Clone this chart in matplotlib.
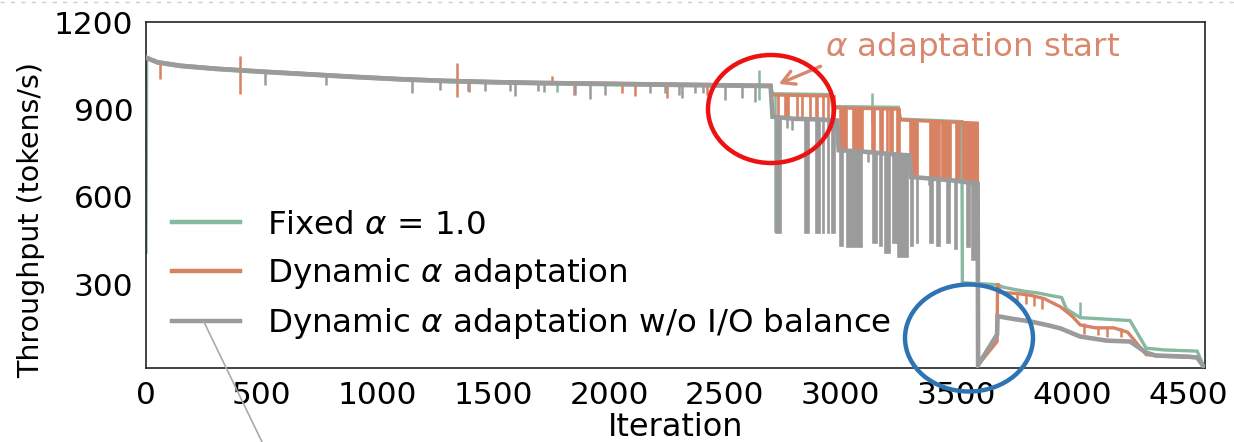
import matplotlib
matplotlib.use("Agg")
import matplotlib.pyplot as plt
from matplotlib.patches import Ellipse
from matplotlib.lines import Line2D

plt.rcParams['font.family'] = ['DejaVu Sans']
plt.rcParams['mathtext.fontset'] = 'dejavusans'

GREEN = '#86b9a0'
ORANGE = '#d98163'
GRAY = '#9b9b9b'
NOTE = '#d9886e'

# ---- Fixed alpha = 1.0 -------------------------------------------------
fixed_iter = [0, 3, 50, 150, 300, 500, 700, 900, 1100, 1300, 1500, 1700, 1900,
              2100, 2300, 2500, 2698, 2705, 2960, 2968, 3250, 3258, 3524, 3526,
              3680, 3700, 3750, 3800, 3850, 3900, 3955, 3975, 4035, 4250, 4320,
              4400, 4540, 4566]
fixed_tput = [410, 1075, 1059, 1047, 1037, 1027, 1018, 1009, 1001, 995, 991, 988,
              986, 984, 982, 980, 978, 954, 951, 910, 907, 867, 858, 305,
              298, 290, 282, 275, 270, 262, 254, 215, 185, 175, 80,
              74, 70, 22]
fixed_spike_iter = [1775, 2648, 2715, 3136, 4036]
fixed_spike_lo = [960, 933, 480, 854, 185]
fixed_spike_hi = [990, 1035, 954, 957, 240]

# ---- Dynamic alpha adaptation ------------------------------------------
adapt_iter = [0, 50, 150, 300, 500, 700, 900, 1100, 1300, 1500, 1700, 1900,
              2100, 2300, 2500, 2698, 2704, 2960, 2966, 3250, 3258, 3590, 3594,
              3676, 3678, 3690, 3760, 3820, 3880, 3950, 4000, 4035, 4100, 4180,
              4240, 4320, 4400, 4540, 4568]
adapt_tput = [1080, 1064, 1052, 1042, 1032, 1023, 1014, 1006, 1000, 996, 993, 991,
              989, 987, 985, 983, 950, 946, 906, 901, 864, 853, 22,
              103, 303, 272, 268, 262, 250, 222, 190, 160, 150, 150,
              135, 58, 52, 48, 18]
adapt_spike_iter = [60, 406, 1343, 1395, 1754, 1849, 2056, 2112, 2251, 2423,
                    3760, 3800, 3835, 3870, 4050, 4110, 4150, 4210]
adapt_spike_lo = [1005, 953, 943, 960, 989, 950, 957, 945, 939, 950,
                  235, 232, 225, 215, 130, 125, 120, 118]
adapt_spike_hi = [1062, 1083, 1059, 996, 1015, 991, 988, 987, 986, 985,
                  268, 264, 262, 255, 165, 152, 150, 148]
# bursts where the throughput flips rapidly between two levels
adapt_burst_start = [2728, 2758, 2810, 2832, 2866, 2896, 2922, 2944, 2961,
                     2998, 3054, 3136, 3171, 3199, 3214, 3244,
                     3300, 3387, 3440, 3500, 3527]
adapt_burst_end = [2734, 2778, 2815, 2837, 2871, 2901, 2927, 2949, 2978,
                   3028, 3097, 3149, 3184, 3204, 3227, 3257,
                   3335, 3430, 3475, 3515, 3592]
adapt_burst_lo = [872, 872, 870, 870, 868, 868, 866, 866, 864,
                  758, 756, 752, 750, 750, 748, 746,
                  666, 662, 660, 655, 648]
adapt_burst_hi = [948, 948, 948, 948, 947, 947, 947, 946, 946,
                  905, 905, 904, 903, 903, 902, 901,
                  862, 860, 858, 856, 854]

# ---- Dynamic alpha adaptation w/o I/O balance ----------------------------
noio_iter = [0, 50, 150, 300, 500, 700, 900, 1100, 1300, 1500, 1700, 1900,
             2100, 2300, 2500, 2698, 2706, 2800, 2900, 2985, 2992, 3100, 3200,
             3298, 3305, 3400, 3500, 3592, 3594, 3676, 3678, 3750, 3820, 3900,
             3950, 4035, 4150, 4250, 4320, 4360, 4500, 4540, 4568]
noio_tput = [1078, 1062, 1050, 1040, 1030, 1021, 1012, 1004, 998, 994, 991, 989,
             987, 985, 983, 981, 875, 868, 866, 862, 760, 755, 748,
             742, 668, 662, 655, 645, 22, 127, 190, 180, 172, 158,
             148, 120, 106, 103, 65, 55, 51, 48, 17]
noio_spike_iter = [514, 778, 1149, 1270, 1391, 1464, 1572, 1594, 1693, 1719,
                   1853, 1918, 1983, 2177, 2242, 2302, 2315, 2372, 2406, 2501,
                   2575, 2631, 2695, 2770, 2790, 3060, 3120, 3380, 3470]
noio_spike_lo = [984, 984, 955, 967, 963, 963, 963, 945, 963, 960,
                 950, 935, 948, 957, 955, 950, 939, 957, 957, 933,
                 939, 926, 950, 835, 828, 725, 720, 640, 630]
noio_spike_hi = [1032, 1018, 1002, 999, 997, 996, 993, 993, 992, 991,
                 990, 989, 988, 986, 986, 985, 985, 985, 984, 983,
                 982, 982, 981, 868, 868, 755, 752, 662, 656]
noio_burst_start = [2719, 2845, 2896, 2922, 2944, 2961,
                    2998, 3026, 3138, 3169, 3190, 3225, 3248,
                    3305, 3330, 3387, 3417, 3460, 3495, 3546, 3568]
noio_burst_end = [2741, 2862, 2913, 2927, 2949, 2978,
                  3011, 3093, 3158, 3180, 3214, 3244, 3290,
                  3312, 3336, 3400, 3430, 3473, 3503, 3559, 3590]
noio_burst_lo = [477, 477, 477, 477, 477, 477,
                 430, 429, 440, 430, 408, 440, 394,
                 430, 440, 440, 430, 440, 420, 429, 384]
noio_burst_hi = [872, 868, 866, 866, 864, 862,
                 758, 756, 752, 750, 750, 748, 745,
                 667, 666, 662, 660, 658, 655, 650, 648]

fig = plt.figure(figsize=(12.34, 4.42), dpi=100)
ax = fig.add_axes([0.1183, 0.1674, 0.8582, 0.7826])

series = [
    (fixed_iter, fixed_tput, GREEN, 'Fixed $\\alpha$ = 1.0', 2.4,
     (fixed_spike_iter, fixed_spike_lo, fixed_spike_hi), None),
    (adapt_iter, adapt_tput, ORANGE, 'Dynamic $\\alpha$ adaptation', 2.4,
     (adapt_spike_iter, adapt_spike_lo, adapt_spike_hi),
     (adapt_burst_start, adapt_burst_end, adapt_burst_lo, adapt_burst_hi)),
    (noio_iter, noio_tput, GRAY, 'Dynamic $\\alpha$ adaptation w/o I/O balance', 3.3,
     (noio_spike_iter, noio_spike_lo, noio_spike_hi),
     (noio_burst_start, noio_burst_end, noio_burst_lo, noio_burst_hi)),
]

for z, (xs, ys, col, lab, lw, spikes, bursts) in enumerate(series):
    zb = 2 + 2 * z
    ax.plot(xs, ys, color=col, lw=lw, label=lab, zorder=zb,
            solid_joinstyle='miter')
    ax.vlines(spikes[0], spikes[1], spikes[2], color=col, lw=1.8, zorder=zb)
    if bursts is not None:
        s, e, lo, hi = bursts
        ax.bar(s, height=[h - l for l, h in zip(lo, hi)],
               width=[b - a for a, b in zip(s, e)], bottom=lo, align='edge',
               color=col, edgecolor=col, lw=1.2, zorder=zb + 1)

ax.set_xlim(0, 4574)
ax.set_ylim(12, 1200)
ax.set_xticks([0, 500, 1000, 1500, 2000, 2500, 3000, 3500, 4000, 4500])
ax.set_yticks([300, 600, 900, 1200])
ax.tick_params(axis='both', length=0, labelsize=22.5)
ax.tick_params(axis='y', pad=9)
ax.tick_params(axis='x', pad=9)
for sp in ax.spines.values():
    sp.set_color('#222222')
    sp.set_linewidth(1.2)
ax.set_xlabel('Iteration', fontsize=23, labelpad=2)
ax.set_ylabel('Throughput (tokens/s)', fontsize=20.5)
ax.yaxis.set_label_coords(-0.095, 0.428)

leg = ax.legend(loc='lower left', bbox_to_anchor=(0.0, 0.002), frameon=False,
                fontsize=23.4, handlelength=2.1, handletextpad=0.83,
                labelspacing=0.47, borderaxespad=0.4)
for h in leg.get_lines():
    h.set_linewidth(3.2)

# annotation at the start of alpha adaptation
ax.annotate('', xy=(2722, 984), xytext=(2925, 1052),
            arrowprops=dict(arrowstyle='->,head_length=0.9,head_width=0.5',
                            color=NOTE, lw=2.4))
ax.text(2932, 1114, '$\\alpha$ adaptation start', color=NOTE, fontsize=23.4,
        ha='left', va='center')

W, H = 1234.0, 442.0
fig.add_artist(Ellipse((771 / W, 1 - 109 / H), 126 / W, 108 / H,
                       transform=fig.transFigure, fill=False,
                       edgecolor='#ee1111', lw=3.2, zorder=10))
fig.add_artist(Ellipse((969 / W, 1 - 338 / H), 128 / W, 107 / H,
                       transform=fig.transFigure, fill=False,
                       edgecolor='#2e74b5', lw=3.2, zorder=10))
fig.add_artist(Line2D([204 / W, 262 / W], [1 - 322 / H, 0.0],
                      transform=fig.transFigure, color='#aaaaaa', lw=1.2,
                      zorder=10))
fig.add_artist(Line2D([0, 1], [1 - 1.5 / H, 1 - 1.5 / H],
                      transform=fig.transFigure, color='#cccccc', lw=1.0,
                      linestyle=(0, (3, 4.5)), zorder=10))

fig.savefig('out.png', dpi=100)
